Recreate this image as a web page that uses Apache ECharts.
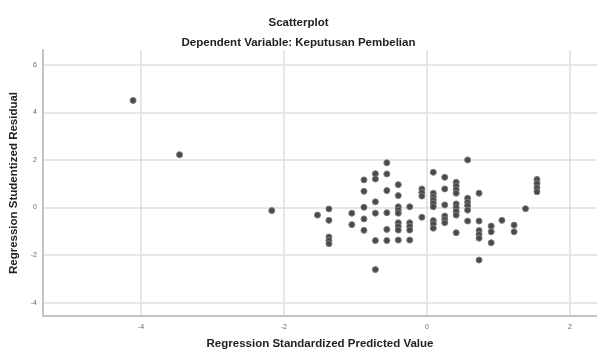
<!DOCTYPE html>
<html>
<head>
<meta charset="utf-8">
<script src="https://cdn.jsdelivr.net/npm/echarts@6/dist/echarts.min.js"></script>
<style>
  html, body { margin: 0; padding: 0; background: #fff; }
  #chart { width: 597px; height: 352px; }
</style>
</head>
<body>
<div id="chart"></div>
<script>
// Regression Standardized Predicted Value (x) / Studentized Residual (y)
const predicted = [
  -4.11, -3.46, -2.17,
  -1.53,
  -1.37, -1.37, -1.37, -1.37, -1.37,
  -1.05, -1.05,
  -0.88, -0.88, -0.88, -0.88, -0.88,
  -0.72, -0.72, -0.72, -0.72, -0.72, -0.72,
  -0.56, -0.56, -0.56, -0.56, -0.56, -0.56,
  -0.40, -0.40, -0.40, -0.40, -0.40, -0.40, -0.40, -0.40, -0.40,
  -0.24, -0.24, -0.24, -0.24, -0.24,
  -0.07, -0.07, -0.07, -0.07,
  0.09, 0.09, 0.09, 0.09, 0.09, 0.09, 0.09, 0.09, 0.09,
  0.25, 0.25, 0.25, 0.25, 0.25, 0.25,
  0.41, 0.41, 0.41, 0.41, 0.41, 0.41, 0.41, 0.41, 0.41,
  0.57, 0.57, 0.57, 0.57, 0.57, 0.57,
  0.73, 0.73, 0.73, 0.73, 0.73, 0.73,
  0.90, 0.90, 0.90,
  1.05,
  1.22, 1.22,
  1.38,
  1.54, 1.54, 1.54, 1.54
];
const residual = [
  4.50, 2.22, -0.13,
  -0.32,
  -0.06, -0.54, -1.24, -1.38, -1.52,
  -0.24, -0.72,
  1.16, 0.68, 0.01, -0.48, -0.96,
  1.42, 1.20, 0.24, -0.24, -1.39, -2.61,
  1.88, 1.41, 0.71, -0.22, -0.92, -1.39,
  0.96, 0.50, 0.03, -0.11, -0.24, -0.64, -0.79, -0.95, -1.37,
  0.03, -0.64, -0.79, -0.95, -1.37,
  0.78, 0.63, 0.48, -0.41,
  1.48, 0.60, 0.45, 0.32, 0.18, 0.03, -0.55, -0.69, -0.87,
  1.27, 0.78, 0.11, -0.36, -0.50, -0.64,
  1.06, 0.90, 0.75, 0.60, 0.15, -0.01, -0.16, -0.32, -1.06,
  2.00, 0.39, 0.23, 0.08, -0.11, -0.57,
  0.60, -0.57, -0.97, -1.13, -1.29, -2.21,
  -0.78, -1.02, -1.48,
  -0.54,
  -0.74, -1.02,
  -0.05,
  1.18, 1.01, 0.83, 0.66
];

const points = predicted.map((x, i) => [x, residual[i]]);

const chart = echarts.init(document.getElementById('chart'), null, { renderer: 'canvas' });

const font = '"Liberation Sans", Arial, sans-serif';
const gridLine = { show: true, showMinLine: false, showMaxLine: false, lineStyle: { color: '#dedede', width: 1.5 } };
const intLabel = v => (Number.isInteger(v) ? String(v) : '');
const nameStyle = { fontFamily: font, fontSize: 11.5, fontWeight: 'bold', color: '#222' };

chart.setOption({
  animation: false,
  backgroundColor: '#fff',
  title: {
    text: 'Scatterplot',
    subtext: 'Dependent Variable: Keputusan Pembelian',
    left: 'center',
    top: 12,
    itemGap: 8,
    textStyle: { fontFamily: font, fontSize: 11.5, fontWeight: 'bold', color: '#222' },
    subtextStyle: { fontFamily: font, fontSize: 11.5, fontWeight: 'bold', color: '#222' }
  },
  grid: { left: 43, right: 0, top: 50, bottom: 36, outerBoundsMode: 'none' },
  xAxis: {
    type: 'value',
    min: -5.37,
    max: 2.38,
    splitNumber: 4,
    name: 'Regression Standardized Predicted Value',
    nameLocation: 'middle',
    nameGap: 22,
    nameTextStyle: nameStyle,
    axisLine: { show: true, onZero: false, lineStyle: { color: '#c4c4c4', width: 2 } },
    axisTick: { show: false },
    axisLabel: { formatter: intLabel, showMinLabel: false, showMaxLabel: false, fontFamily: font, fontSize: 7, color: '#666', margin: 8 },
    splitLine: gridLine
  },
  yAxis: {
    type: 'value',
    min: -4.56,
    max: 6.62,
    splitNumber: 5,
    name: 'Regression Studentized Residual',
    nameLocation: 'middle',
    nameRotate: 90,
    nameGap: 20,
    nameTextStyle: nameStyle,
    axisLine: { show: true, onZero: false, lineStyle: { color: '#c4c4c4', width: 2 } },
    axisTick: { show: false },
    axisLabel: { formatter: intLabel, showMinLabel: false, showMaxLabel: false, fontFamily: font, fontSize: 7, color: '#666', margin: 6 },
    splitLine: gridLine
  },
  series: [{
    type: 'scatter',
    data: points,
    symbol: 'circle',
    symbolSize: 6,
    itemStyle: { color: '#4a4a4a', borderColor: '#7a7a7a', borderWidth: 1, opacity: 1 }
  }]
});
</script>
</body>
</html>
